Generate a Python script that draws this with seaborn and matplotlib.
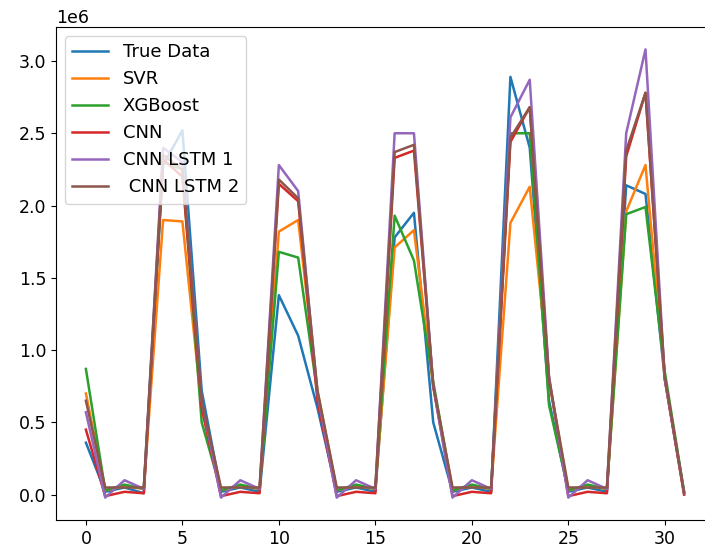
import numpy as np
import pandas as pd
import matplotlib
matplotlib.use("Agg")
import matplotlib.pyplot as plt
import seaborn as sns

x_idx = list(range(32))

true_data = [0.36, 0.02, 0.05, 0.01, 2.28, 2.52, 0.72, 0.02, 0.05, 0.02,
             1.38, 1.10, 0.60, 0.02, 0.05, 0.02, 1.78, 1.95, 0.50, 0.02,
             0.05, 0.02, 2.89, 2.40, 0.65, 0.02, 0.05, 0.02, 2.14, 2.08,
             0.80, 0.02]
svr = [0.70, 0.03, 0.06, 0.04, 1.90, 1.89, 0.60, 0.03, 0.06, 0.04,
       1.82, 1.90, 0.72, 0.03, 0.06, 0.04, 1.71, 1.83, 0.75, 0.03,
       0.06, 0.04, 1.88, 2.13, 0.80, 0.03, 0.06, 0.04, 1.96, 2.28,
       0.80, 0.01]
xgb = [0.87, 0.03, 0.07, 0.04, 2.30, 2.25, 0.50, 0.03, 0.07, 0.04,
       1.68, 1.64, 0.70, 0.03, 0.07, 0.04, 1.93, 1.62, 0.78, 0.03,
       0.07, 0.04, 2.50, 2.50, 0.62, 0.03, 0.07, 0.04, 1.94, 1.99,
       0.85, 0.02]
cnn = [0.45, -0.01, 0.02, 0.01, 2.32, 2.20, 0.60, -0.01, 0.02, 0.01,
       2.15, 2.03, 0.65, -0.01, 0.02, 0.01, 2.33, 2.38, 0.75, -0.01,
       0.02, 0.01, 2.44, 2.68, 0.80, -0.01, 0.02, 0.01, 2.34, 2.78,
       0.80, 0.00]
cnn_lstm1 = [0.57, -0.02, 0.10, 0.04, 2.40, 2.30, 0.65, -0.02, 0.10, 0.04,
             2.28, 2.10, 0.70, -0.02, 0.10, 0.04, 2.50, 2.50, 0.75, -0.02,
             0.10, 0.04, 2.61, 2.87, 0.82, -0.02, 0.10, 0.04, 2.50, 3.08,
             0.80, 0.01]
cnn_lstm2 = [0.65, 0.05, 0.05, 0.05, 2.35, 2.25, 0.65, 0.05, 0.05, 0.05,
             2.18, 2.05, 0.72, 0.05, 0.05, 0.05, 2.37, 2.42, 0.76, 0.05,
             0.05, 0.05, 2.47, 2.68, 0.80, 0.05, 0.05, 0.05, 2.38, 2.78,
             0.82, 0.01]

series_names = ["True Data", "SVR", "XGBoost", "CNN", "CNN LSTM 1", " CNN LSTM 2"]
series_vals = [true_data, svr, xgb, cnn, cnn_lstm1, cnn_lstm2]

plt.rcParams['font.size'] = 12
fig = plt.figure(figsize=(7.05, 5.48), dpi=100)
W, H = 705, 548
ax = fig.add_axes([56 / W, 28 / H, 658 / W, 493 / H])

colors = sns.color_palette("tab10", 6)
for name, vals, c in zip(series_names, series_vals, colors):
    df = pd.DataFrame({"x": x_idx, "y": np.array(vals) * 1e6})
    sns.lineplot(data=df, x="x", y="y", ax=ax, color=c, label=name, linewidth=1.8)

ax.set_xlabel("")
ax.set_ylabel("")
ax.tick_params(labelsize=12.5)
ax.yaxis.get_offset_text().set_fontsize(12.5)
ax.legend(loc="upper left", fontsize=13)

fig.savefig("out.png", dpi=100)
